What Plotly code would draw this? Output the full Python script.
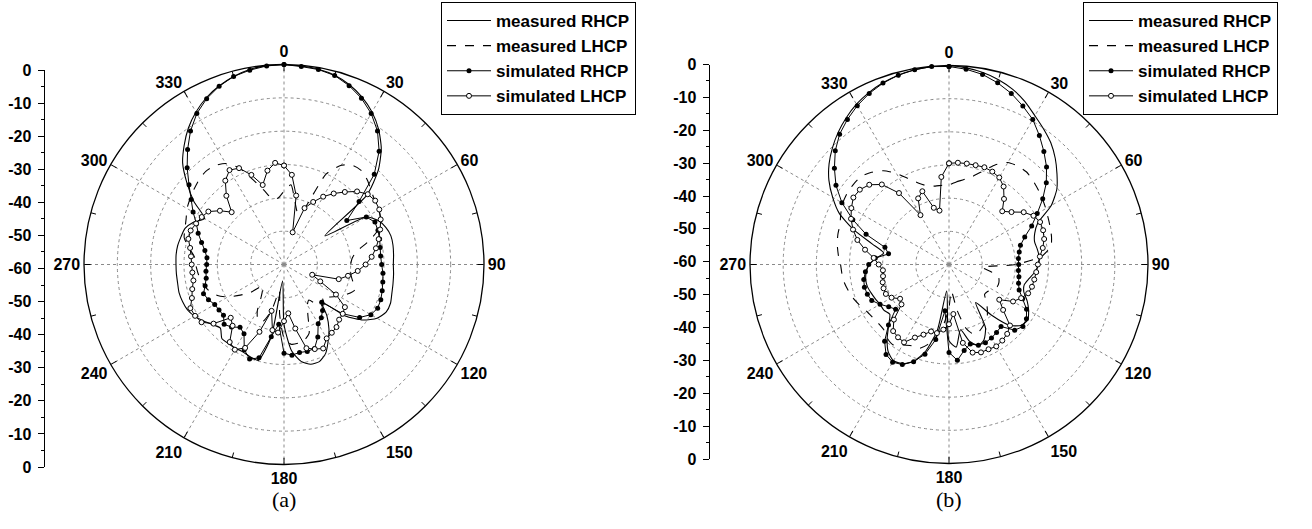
import plotly.graph_objects as go

# ---------------- data (dB vs angle, 5-degree steps) ----------------
ANGLES = list(range(0, 360, 5))

MEAS_RHCP_A = [0.0, -0.2, -0.5, -1.2, -2.6, -4.6, -7.2, -10.5, -14.6, -20.0, -27.5, -45.0,
               -31.5, -28.8, -27.5, -26.8, -26.8, -27.0, -27.2, -27.0, -26.8, -26.5, -26.0, -26.2,
               -27.8, -31.0, -36.0, -44.0, -40.0, -36.5, -33.5, -30.5, -29.0, -29.0, -30.5, -34.0,
               -42.0, -55.0, -38.0, -30.2, -30.5, -31.0, -31.0, -31.0, -31.0, -33.0, -32.0, -30.5,
               -29.0, -28.0, -27.6, -27.4, -27.6, -27.6, -27.6, -27.5, -27.6, -28.0, -28.4, -30.0,
               -32.5, -27.0, -22.0, -17.0, -13.4, -10.0, -7.2, -4.8, -3.0, -1.6, -0.6, -0.1]
MEAS_LHCP_A = [-38.0, -36.0, -41.0, -44.0, -42.0, -30.0, -25.6, -23.8, -23.5, -24.5, -25.8, -26.7,
               -27.2, -28.0, -30.0, -34.0, -38.0, -39.5, -40.0, -40.0, -39.5, -38.5, -37.5, -39.0,
               -41.0, -43.0, -45.0, -43.0, -44.0, -47.0, -46.0, -43.0, -38.0, -36.5, -36.0, -36.0,
               -38.0, -45.0, -52.0, -46.0, -42.0, -41.5, -44.0, -48.0, -50.0, -51.0, -47.0, -44.0,
               -40.5, -38.0, -36.3, -35.3, -34.5, -34.0, -33.5, -33.0, -31.0, -29.0, -28.4, -27.6,
               -26.4, -25.6, -24.8, -24.0, -23.5, -23.8, -25.0, -28.0, -33.0, -37.0, -40.0, -40.0]
SIM_RHCP_A = [0.0, -0.4, -0.6, -1.3, -2.9, -5.0, -7.7, -11.1, -15.6, -21.7, -30.6, -37.0,
              -31.5, -29.9, -30.0, -30.3, -30.7, -30.9, -30.7, -30.2, -29.9, -29.5, -29.1, -29.0,
              -29.9, -32.3, -37.0, -44.0, -42.0, -40.5, -39.5, -36.0, -33.2, -33.0, -33.2, -32.7,
              -33.4, -42.0, -38.0, -31.0, -29.8, -31.8, -36.0, -37.0, -35.5, -34.6, -36.3, -36.2,
              -36.0, -35.0, -34.3, -35.5, -36.3, -36.5, -36.8, -36.8, -35.9, -34.4, -32.6, -31.0,
              -28.5, -26.0, -22.8, -18.9, -15.0, -11.1, -7.7, -5.1, -3.1, -1.6, -0.8, -0.2]
SIM_LHCP_A = [-30.3, -33.0, -39.0, -50.0, -42.0, -39.3, -36.5, -34.0, -31.6, -29.0, -27.2, -26.6,
              -27.0, -28.0, -29.3, -30.6, -32.0, -33.6, -35.5, -37.8, -40.5, -43.0, -51.0, -48.0,
              -42.0, -37.7, -37.0, -36.6, -35.5, -35.0, -34.4, -32.2, -33.0, -34.0, -40.5, -45.3,
              -43.0, -39.5, -40.0, -45.6, -38.5, -32.4, -30.5, -31.6, -36.0, -37.4, -32.4, -29.8,
              -29.2, -29.0, -30.6, -31.5, -32.4, -32.4, -32.3, -32.0, -31.4, -30.3, -30.2, -30.9,
              -31.5, -32.3, -34.9, -37.8, -33.1, -29.3, -27.3, -28.1, -31.4, -35.3, -31.4, -29.4]

MEAS_RHCP_B = [0.0, -0.5, -1.2, -2.3, -3.8, -5.8, -8.2, -10.2, -12.2, -14.7, -17.5, -20.3,
               -24.4, -30.5, -32.5, -33.3, -33.0, -32.7, -33.0, -34.0, -35.5, -36.5, -36.0, -34.0,
               -32.3, -31.0, -31.5, -34.0, -40.0, -46.0, -38.0, -35.0, -34.0, -36.0, -40.0, -35.0,
               -37.0, -52.0, -40.0, -33.0, -29.0, -27.0, -26.5, -28.0, -31.0, -34.3, -36.7, -36.0,
               -36.0, -35.5, -35.0, -34.5, -34.5, -35.0, -36.0, -38.0, -40.0, -36.0, -29.5, -23.5,
               -19.5, -15.8, -12.8, -10.3, -8.0, -6.0, -4.2, -2.8, -1.7, -0.9, -0.4, -0.1]
MEAS_LHCP_B = [-36.0, -35.0, -34.0, -32.5, -30.0, -26.8, -24.5, -23.8, -23.6, -24.2, -24.9, -25.6,
               -26.3, -27.0, -27.5, -28.0, -28.8, -32.0, -40.0, -50.0, -47.0, -44.5, -44.0, -44.0,
               -45.0, -45.8, -46.0, -44.0, -42.0, -40.0, -39.0, -38.0, -37.5, -40.0, -46.0, -52.0,
               -47.0, -42.0, -38.0, -35.0, -33.0, -33.0, -32.0, -30.5, -31.0, -32.2, -32.3, -32.0,
               -31.5, -30.5, -29.5, -28.7, -28.0, -27.6, -27.3, -26.5, -25.8, -25.3, -25.0, -24.0,
               -23.0, -22.5, -22.4, -22.5, -23.7, -25.5, -28.3, -31.5, -34.0, -35.5, -36.0, -36.0]
SIM_RHCP_B = [-0.3, -0.9, -1.8, -3.3, -5.1, -7.3, -9.5, -12.5, -15.5, -18.4, -21.7, -25.5,
              -29.3, -32.5, -35.7, -37.7, -38.5, -39.0, -39.0, -39.0, -38.6, -38.3, -37.5, -35.5,
              -33.0, -31.5, -30.9, -32.0, -35.6, -35.0, -34.4, -34.0, -34.1, -35.2, -33.7, -31.0,
              -33.5, -46.0, -37.0, -32.0, -28.8, -26.7, -26.0, -26.9, -29.8, -34.2, -39.0, -37.8,
              -36.0, -34.3, -33.8, -33.6, -33.9, -34.7, -35.8, -37.7, -41.5, -40.0, -33.4, -28.0,
              -22.7, -18.4, -14.9, -11.5, -8.7, -6.6, -4.7, -3.1, -1.8, -0.9, -0.4, -0.1]
SIM_LHCP_B = [-29.5, -29.2, -29.1, -29.0, -28.8, -29.1, -29.7, -31.3, -34.2, -37.3, -35.4, -32.5,
              -30.6, -29.7, -29.8, -30.3, -31.3, -32.5, -33.2, -33.6, -33.9, -34.1, -34.6, -36.0,
              -37.7, -41.5, -38.7, -34.0, -32.7, -32.0, -31.5, -31.8, -31.8, -32.5, -36.0, -45.0,
              -42.0, -40.3, -39.0, -39.1, -37.5, -35.7, -32.9, -33.2, -33.8, -36.5, -41.3, -42.0,
              -40.0, -39.0, -39.0, -39.3, -39.8, -40.0, -38.8, -37.2, -34.3, -31.4, -29.2, -27.4,
              -26.0, -24.8, -24.9, -26.0, -28.5, -33.7, -42.8, -38.0, -36.5, -42.3, -43.5, -33.5]

SERIES_NAMES = ["measured RHCP", "measured LHCP", "simulated RHCP", "simulated LHCP"]
ANG_TICKS = list(range(0, 360, 30))
MINOR_ANG = list(range(15, 360, 30))
RAD_TICKS = [-50, -40, -30, -20, -10]
SIDE_TICKVALS = list(range(-60, 61, 10))
SIDE_TICKTEXT = [str(abs(v) - 60) for v in SIDE_TICKVALS]
PANEL_LABELS = ["(a)", "(b)"]

W, H = 1312, 529
FONT = "Liberation Sans, Arial, sans-serif"
SERIF = "Liberation Serif, Times New Roman, serif"


def closed(vals):
    return list(vals) + [vals[0]]


ANG_C = closed(ANGLES)

fig = go.Figure()


def add_panel(polar_id, legend_id, mr, ml, sr, sl):
    styles = [
        (mr, dict(color="black", width=1.1, shape="spline", smoothing=0.6), "lines", None),
        (ml, dict(color="black", width=1.1, dash="dash", shape="spline", smoothing=0.6), "lines", None),
        (sr, dict(color="black", width=1), "lines+markers",
         dict(symbol="circle", size=5, color="black")),
        (sl, dict(color="black", width=1), "lines+markers",
         dict(symbol="circle", size=5, color="white", line=dict(color="black", width=1))),
    ]
    for name, (vals, line, mode, marker) in zip(SERIES_NAMES, styles):
        kw = dict(r=closed(vals), theta=ANG_C, mode=mode, line=line, name=name,
                  subplot=polar_id, legend=legend_id, cliponaxis=False)
        if marker:
            kw["marker"] = marker
        fig.add_trace(go.Scatterpolar(**kw))
    # minor angular ticks at 15-degree offsets
    rr, tt = [], []
    for a in MINOR_ANG:
        rr += [-1.6, 0, None]
        tt += [a, a, None]
    fig.add_trace(go.Scatterpolar(r=rr, theta=tt, mode="lines", line=dict(color="black", width=1),
                                  subplot=polar_id, showlegend=False, hoverinfo="skip"))


add_panel("polar", "legend", MEAS_RHCP_A, MEAS_LHCP_A, SIM_RHCP_A, SIM_LHCP_A)
add_panel("polar2", "legend2", MEAS_RHCP_B, MEAS_LHCP_B, SIM_RHCP_B, SIM_LHCP_B)


def polar_layout(cx, cy, rad):
    return dict(
        domain=dict(x=[(cx - rad) / W, (cx + rad) / W], y=[(H - cy - rad) / H, (H - cy + rad) / H]),
        bgcolor="white",
        radialaxis=dict(range=[-60, 0], tickvals=RAD_TICKS, showticklabels=False, ticks="",
                        showline=False, gridcolor="#8a8a8a", griddash="dot", gridwidth=1),
        angularaxis=dict(direction="clockwise", rotation=90, tickvals=ANG_TICKS,
                         ticktext=[str(a) for a in ANG_TICKS], ticks="inside", ticklen=6,
                         tickcolor="black", showline=True, linecolor="black", linewidth=1.3,
                         gridcolor="#8a8a8a", griddash="dot", gridwidth=1,
                         tickfont=dict(family=FONT, size=16, color="black", weight="bold")),
    )


# side (linear) radial scales
for xa, ya in [("x", "y"), ("x2", "y2")]:
    fig.add_trace(go.Scatter(x=[None], y=[None], xaxis=xa, yaxis=ya, showlegend=False,
                             hoverinfo="skip"))

side_y = dict(range=[-60, 60], tickvals=SIDE_TICKVALS, ticktext=SIDE_TICKTEXT,
              ticks="outside", ticklen=6, tickcolor="black", showline=True, linecolor="black",
              linewidth=1, showgrid=False, zeroline=False, side="left", automargin=False,
              ticklabelstandoff=3,
              minor=dict(dtick=5, ticks="outside", ticklen=3, tickcolor="black", showgrid=False),
              tickfont=dict(family=FONT, size=16, color="black", weight="bold"))
side_x = dict(visible=False, range=[0, 1], showgrid=False, zeroline=False, automargin=False)

legend_style = dict(bgcolor="white", bordercolor="black", borderwidth=1, xanchor="left",
                    yanchor="top", itemwidth=44, tracegroupgap=0,
                    font=dict(family=FONT, size=17, color="black", weight="bold"))

fig.update_layout(
    width=W, height=H, margin=dict(l=0, r=0, t=0, b=0, autoexpand=False),
    paper_bgcolor="white", plot_bgcolor="rgba(0,0,0,0)",
    polar=polar_layout(284, 264.5, 200),
    polar2=polar_layout(949, 264.5, 199),
    xaxis=dict(domain=[44.5 / W, 45.5 / W], anchor="y", **side_x),
    yaxis=dict(domain=[(H - 467) / H, (H - 70) / H], anchor="x", **side_y),
    xaxis2=dict(domain=[709.5 / W, 710.5 / W], anchor="y2", **side_x),
    yaxis2=dict(domain=[(H - 459) / H, (H - 64.5) / H], anchor="x2", **side_y),
    legend=dict(x=441 / W, y=1 - 2 / H, **legend_style),
    legend2=dict(x=1083 / W, y=1 - 2 / H, **legend_style),
    annotations=[
        dict(text=lbl, x=cx / W, y=1 - 499 / H, xref="paper", yref="paper", showarrow=False,
             xanchor="center", yanchor="middle",
             font=dict(family=SERIF, size=22, color="black"))
        for lbl, cx in zip(PANEL_LABELS, [284, 949])
    ],
    showlegend=True,
)

fig.write_html("out.html", config={"displayModeBar": False},
               post_script="document.body.style.margin='0px';")
